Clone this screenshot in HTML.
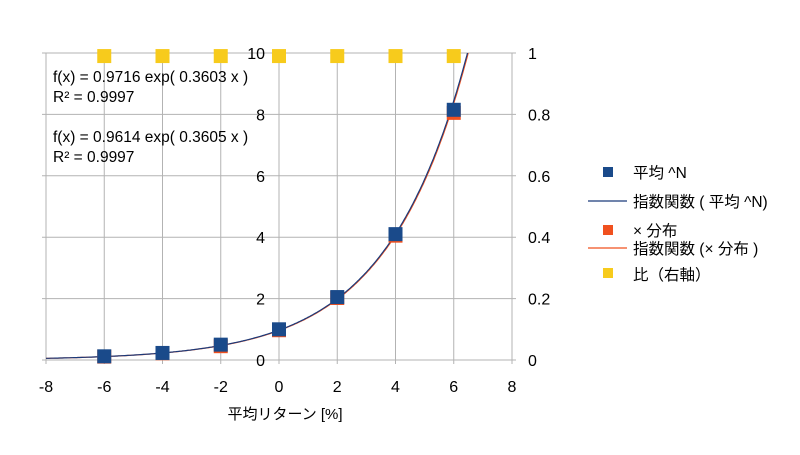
<!DOCTYPE html>
<html><head><meta charset="utf-8"><style>
body{margin:0;background:#fff;}
svg text{font-family:"Liberation Sans","Noto Sans CJK JP",sans-serif;fill:#000;}
</style></head><body>
<svg id="c" width="800" height="450">
<defs><clipPath id="pc"><rect x="46" y="53" width="466" height="310"/></clipPath></defs>
<rect width="800" height="450" fill="#fff"/>
<g id="grid"></g><g id="lines" clip-path="url(#pc)"></g><g id="marks"></g><g id="labels"></g>
<text x="53" y="82" font-size="15.5">f(x) = 0.9716 exp( 0.3603 x )</text>
<text x="53" y="102" font-size="15.5">R² = 0.9997</text>
<text x="53" y="142" font-size="15.5">f(x) = 0.9614 exp( 0.3605 x )</text>
<text x="53" y="162" font-size="15.5">R² = 0.9997</text>
<text x="285" y="419" font-size="15" text-anchor="middle">平均リターン [%]</text>
<g font-size="15.5">
<rect x="603" y="167" width="10" height="10" fill="#1a4a8a"/>
<text x="633" y="178">平均 ^N</text>
<line x1="588" y1="201" x2="627" y2="201" stroke="#1a3a7a" stroke-width="1.2"/>
<text x="633" y="207">指数関数 ( 平均 ^N)</text>
<rect x="603" y="225" width="10" height="10" fill="#f0501e"/>
<text x="633" y="236">× 分布</text>
<line x1="588" y1="248" x2="627" y2="248" stroke="#f0501e" stroke-width="1.2"/>
<text x="633" y="254">指数関数 (× 分布 )</text>
<rect x="603" y="268" width="10" height="10" fill="#f7cb1c"/>
<text x="633" y="280">比（右軸）</text>
</g>
</svg>
<script>
const xCats=[-6,-4,-2,0,2,4,6];
const meanVals=[0.12,0.23,0.5,1.0,2.05,4.1,8.15];
const distVals=[0.11,0.22,0.45,0.97,2.02,4.05,8.05];
const ratioVals=[0.99,0.99,0.99,0.99,0.99,0.99,0.99];
const fitMean=[0.9716,0.3603];
const fitDist=[0.9614,0.3605];
const xTicks=[-8,-6,-4,-2,0,2,4,6,8];
const yTicks=[0,2,4,6,8,10];
const y2Ticks=["0","0.2","0.4","0.6","0.8","1"];
const L=46,R=512,T=53,B=360;
const X=v=>L+(v+8)/16*(R-L);
const Y=v=>B-v/10*(B-T);
const Y2=v=>B-v*(B-T);
const ns="http://www.w3.org/2000/svg";
function mk(t,p,a){const e=document.createElementNS(ns,t);for(const k in a)e.setAttribute(k,a[k]);p.appendChild(e);return e;}
const g=document.getElementById('grid'),ln=document.getElementById('lines'),mg=document.getElementById('marks'),lb=document.getElementById('labels');
xTicks.forEach(v=>{
 const l=mk('line',g,{x1:X(v),x2:X(v),y1:T,y2:B+4,stroke:'#b3b3b3'});
 
 
 const t=mk('text',lb,{x:X(v),y:B+32,'font-size':16,'text-anchor':'middle'});t.textContent=v;
 
 
});
yTicks.forEach((v,i)=>{
 const l=mk('line',g,{x1:L-4,x2:R+4,y1:Y(v),y2:Y(v),stroke:'#b3b3b3'});
 
 
 const t=mk('text',lb,{x:X(0)-14,y:Y(v)+6,'font-size':16,'text-anchor':'end'});t.textContent=v;
 
 
 const t2=mk('text',lb,{x:R+16,y:Y2(parseFloat(y2Ticks[i]))+6,'font-size':16});t2.textContent=y2Ticks[i];
 
 
});
function curve(f,col,name){
 let d='';for(let x=-8;x<=8;x+=0.05){const y=f[0]*Math.exp(f[1]*x);if(y>10.3)break;d+=(d?'L':'M')+X(x).toFixed(1)+','+Y(y).toFixed(1);}
 const p=mk('path',ln,{d:d,fill:'none',stroke:col,'stroke-width':1.2});
 
 
}
curve(fitDist,'#f0501e','trend-line-dist');
curve(fitMean,'#1a3a7a','trend-line-mean');
function pts(vals,yf,col,name){
 vals.forEach((v,i)=>{
  const r=mk('rect',mg,{x:X(xCats[i])-7,y:yf(v)-7,width:14,height:14,fill:col});
  
  
 });
}
pts(distVals,Y,'#f0501e','dist-point');
pts(meanVals,Y,'#1a4a8a','mean-point');
pts(ratioVals,Y2,'#f7cb1c','ratio-point');
</script>
</body></html>
